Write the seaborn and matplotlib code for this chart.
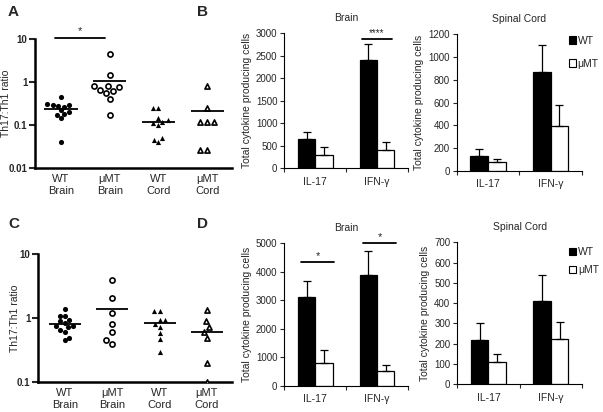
import numpy as np
import pandas as pd
import matplotlib
matplotlib.use("Agg")
import matplotlib.pyplot as plt
import seaborn as sns
from matplotlib.patches import Patch
from matplotlib.ticker import FixedLocator, NullLocator

# ---------------- data ----------------
groups = ["WT\nBrain", "μMT\nBrain", "WT\nCord", "μMT\nCord"]

a_wt_brain = [0.46, 0.31, 0.30, 0.28, 0.30, 0.27, 0.22, 0.20, 0.18, 0.17, 0.145, 0.04]
a_mu_brain = [4.5, 1.5, 0.80, 0.80, 0.78, 0.65, 0.62, 0.55, 0.40, 0.17]
a_wt_cord = [0.25, 0.25, 0.15, 0.13, 0.12, 0.11, 0.10, 0.05, 0.045, 0.04]
a_mu_cord = [0.80, 0.25, 0.12, 0.12, 0.12, 0.026, 0.026]
a_lines = [0.24, 1.07, 0.12, 0.21]

c_wt_brain = [1.4, 1.1, 1.1, 0.95, 0.85, 0.9, 0.75, 0.75, 0.72, 0.65, 0.62, 0.50, 0.45]
c_mu_brain = [4.0, 2.1, 1.2, 0.82, 0.60, 0.40, 0.45]
c_wt_cord = [1.3, 1.3, 0.95, 0.95, 0.82, 0.74, 0.58, 0.47, 0.30]
c_mu_cord = [1.35, 0.90, 0.72, 0.62, 0.50, 0.20, 0.10]
c_lines = [0.81, 1.38, 0.83, 0.62]

cytokines = ["IL-17", "IFN-γ"]
genotypes = ["WT", "μMT"]

b_brain_wt = [650, 2400]
b_brain_mu = [300, 400]
b_brain_wt_err = [150, 360]
b_brain_mu_err = [175, 180]

b_cord_wt = [130, 870]
b_cord_mu = [75, 395]
b_cord_wt_err = [65, 235]
b_cord_mu_err = [30, 185]

d_brain_wt = [3100, 3900]
d_brain_mu = [800, 500]
d_brain_wt_err = [560, 840]
d_brain_mu_err = [440, 215]

d_cord_wt = [220, 410]
d_cord_mu = [112, 225]
d_cord_wt_err = [80, 130]
d_cord_mu_err = [38, 80]

# ---------------- style ----------------
sns.set_style("white")
plt.rcParams["font.family"] = ["Liberation Sans", "DejaVu Sans"]

W, H = 603, 412
fig = plt.figure(figsize=(W / 100, H / 100), dpi=100)


def add_ax(l, r, t, b):
    return fig.add_axes([l / W, 1 - b / H, (r - l) / W, (b - t) / H])


markers = [
    dict(marker="o", color="black", edgecolor="black", linewidth=0),
    dict(marker="o", color="white", edgecolor="black", linewidth=1.2),
    dict(marker="^", color="black", edgecolor="black", linewidth=0),
    dict(marker="^", color="white", edgecolor="black", linewidth=1.2),
]


def scatter_panel(ax, series, lines, ylim, yticks, yticklabels, xlim, label_x):
    for i, vals in enumerate(series):
        sns.swarmplot(x=[groups[i]] * len(vals), y=vals, order=groups, ax=ax,
                      size=3.7, **markers[i])
    ax.set_yscale("log")
    ax.set_ylim(*ylim)
    ax.set_xlim(*xlim)
    for i, v in enumerate(lines):
        ax.hlines(v, i - 0.34, i + 0.34, color="black", lw=1.3, zorder=5)
    ax.yaxis.set_major_locator(FixedLocator(yticks))
    ax.yaxis.set_minor_locator(NullLocator())
    ax.set_yticklabels(yticklabels, fontsize=7, fontweight="bold")
    ax.set_xticks(range(4))
    ax.set_xticklabels(groups, fontsize=8, linespacing=1.25)
    for s in ["top", "right"]:
        ax.spines[s].set_visible(False)
    for s in ["left", "bottom"]:
        ax.spines[s].set_linewidth(1.8)
        ax.spines[s].set_color("black")
    ax.tick_params(axis="y", which="major", direction="out", length=4, width=1.5, pad=1.5, left=True)
    ax.tick_params(axis="x", length=0, pad=4)
    ax.set_ylabel("Th17:Th1 ratio", fontsize=7.5)
    ax.yaxis.set_label_coords(label_x, 0.5)
    ax.set_xlabel("")
    ax.grid(False)


def bar_panel(ax, wt, mu, wt_err, mu_err, ymax, ystep, title):
    df = pd.DataFrame({
        "cytokine": cytokines * 2,
        "genotype": [genotypes[0]] * 2 + [genotypes[1]] * 2,
        "value": list(wt) + list(mu),
    })
    sns.barplot(data=df, x="cytokine", y="value", hue="genotype", order=cytokines,
                hue_order=genotypes, palette={"WT": "black", "μMT": "white"},
                edgecolor="black", linewidth=0.9, width=0.56, errorbar=None,
                legend=False, ax=ax)
    for cont, errs in zip(ax.containers, [wt_err, mu_err]):
        for bar, e in zip(cont, errs):
            x = bar.get_x() + bar.get_width() / 2
            ax.errorbar(x, bar.get_height(), yerr=[[0], [e]], fmt="none",
                        ecolor="black", elinewidth=0.9, capsize=3.2, capthick=0.9,
                        zorder=1)
    ax.set_xlim(-0.5, 1.5)
    ax.set_ylim(0, ymax)
    ax.set_yticks(np.arange(0, ymax + 1, ystep))
    ax.set_yticklabels([str(int(v)) for v in np.arange(0, ymax + 1, ystep)], fontsize=7)
    ax.set_xticks([0, 1])
    ax.set_xticklabels(cytokines, fontsize=7.5)
    ax.xaxis.set_minor_locator(FixedLocator([-0.5, 0.5, 1.5]))
    ax.tick_params(axis="x", which="major", length=0, pad=6)
    ax.tick_params(axis="x", which="minor", length=3, width=0.8, direction="out", bottom=True)
    ax.tick_params(axis="y", length=3, width=0.8, direction="out", pad=2, left=True)
    for s in ["top", "right"]:
        ax.spines[s].set_visible(False)
    for s in ["left", "bottom"]:
        ax.spines[s].set_linewidth(0.8)
        ax.spines[s].set_color("black")
    ax.set_ylabel("Total cytokine producing cells", fontsize=7.5, labelpad=3)
    ax.set_xlabel("")
    ax.set_title(title, fontsize=7.5, pad=9)
    ax.grid(False)


# A
axA = add_ax(35, 232, 39, 168.3)
scatter_panel(axA, [a_wt_brain, a_mu_brain, a_wt_cord, a_mu_cord], a_lines,
              (0.01, 10), [0.01, 0.1, 1, 10], ["0.01", "0.1", "1", "10"],
              (-0.534, 3.51), -0.12)
axA.plot([-0.12, 0.9], [10.3, 10.3], color="black", lw=1.3, clip_on=False)
axA.text(0.39, 11.5, "*", ha="center", va="bottom", fontsize=8)

# C
axC = add_ax(38, 232, 254.3, 382.3)
scatter_panel(axC, [c_wt_brain, c_mu_brain, c_wt_cord, c_mu_cord], c_lines,
              (0.1, 10), [0.1, 1, 10], ["0.1", "1", "10"], (-0.57, 3.53), -0.095)

# B
axB1 = add_ax(284.3, 408, 33.3, 168.3)
bar_panel(axB1, b_brain_wt, b_brain_mu, b_brain_wt_err, b_brain_mu_err, 3000, 500, "Brain")
axB1.plot([0.75, 1.24], [2880, 2880], color="black", lw=1.3)
axB1.text(0.995, 2900, "****", ha="center", va="bottom", fontsize=7)

axB2 = add_ax(456.7, 582, 34.3, 171)
bar_panel(axB2, b_cord_wt, b_cord_mu, b_cord_wt_err, b_cord_mu_err, 1200, 200, "Spinal Cord")

# D
axD1 = add_ax(284.3, 408, 243.3, 385.7)
bar_panel(axD1, d_brain_wt, d_brain_mu, d_brain_wt_err, d_brain_mu_err, 5000, 1000, "Brain")
axD1.plot([-0.23, 0.31], [4330, 4330], color="black", lw=1.3)
axD1.text(0.04, 4380, "*", ha="center", va="bottom", fontsize=8)
axD1.plot([0.78, 1.31], [5000, 5000], color="black", lw=1.3, clip_on=False)
axD1.text(1.045, 5050, "*", ha="center", va="bottom", fontsize=8)

axD2 = add_ax(457.3, 582, 242.3, 384.3)
bar_panel(axD2, d_cord_wt, d_cord_mu, d_cord_wt_err, d_cord_mu_err, 700, 100, "Spinal Cord")

# legends
handles = [Patch(facecolor="black", edgecolor="black", lw=0.8, label="WT"),
           Patch(facecolor="white", edgecolor="black", lw=0.8, label="μMT")]
for ax, anchor, sp in [(axB2, (0.895, 0.99), 1.25), (axD2, (0.895, 0.965), 0.75)]:
    ax.legend(handles=handles, loc="upper left", bbox_to_anchor=anchor, frameon=False,
              fontsize=7.5, handlelength=0.7, handleheight=0.7, handletextpad=0.15,
              labelspacing=sp, borderaxespad=0, borderpad=0)

# panel letters
for lbl, x, y in [("A", 8, 16), ("B", 197, 16), ("C", 8, 228), ("D", 197, 228)]:
    fig.text(x / W, 1 - y / H, lbl, fontsize=11, fontweight="bold", ha="left", va="baseline")

fig.savefig("out.png", dpi=100)
